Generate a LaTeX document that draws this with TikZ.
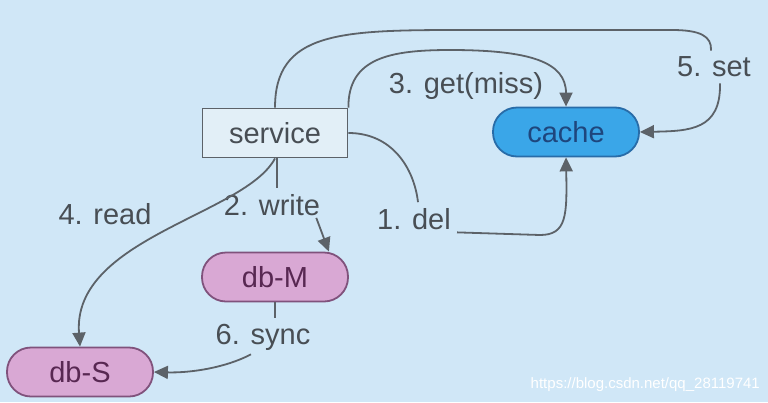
\documentclass[tikz,border=0pt]{standalone}
\usepackage{fontspec}
\setmainfont{Liberation Sans}
\usetikzlibrary{arrows.meta}
\definecolor{bgc}{RGB}{208,231,247}
\definecolor{linec}{RGB}{92,98,104}
\definecolor{txtc}{RGB}{72,78,84}
\definecolor{svcfill}{RGB}{226,239,247}
\definecolor{cachefill}{RGB}{58,166,232}
\definecolor{cachedraw}{RGB}{40,108,168}
\definecolor{cachetxt}{RGB}{30,70,125}
\definecolor{dbfill}{RGB}{217,168,212}
\definecolor{dbdraw}{RGB}{128,82,124}
\definecolor{dbtxt}{RGB}{88,40,82}
\tikzset{
  svcbox/.style={draw=linec, line width=1.8pt, fill=svcfill, text=txtc,
    minimum width=145pt, minimum height=49pt, inner sep=0pt},
  pill/.style={line width=1.8pt, rounded corners=24pt,
    minimum width=146pt, minimum height=49pt, inner sep=0pt},
  cachebox/.style={pill, draw=cachedraw, fill=cachefill, text=cachetxt},
  dbbox/.style={pill, draw=dbdraw, fill=dbfill, text=dbtxt},
  lbl/.style={text=txtc, inner sep=6pt},
  conn/.style={draw=linec, line width=1.8pt},
  arr/.style={conn, -{Triangle[length=14pt,width=13pt]}},
}
\begin{document}
\begin{tikzpicture}[x=1pt,y=-1pt, font=\fontsize{29}{34}\selectfont]
\useasboundingbox (0,0) rectangle (768,402);
\fill[bgc] (0,0) rectangle (768,402);

% nodes
\node[svcbox] (service) at (275,133) {service};
\node[cachebox] (cache) at (566,132) {cache};
\node[dbbox] (dbM) at (275,277) {db-M};
\node[dbbox] (dbS) at (80,372) {db-S};

% labels
\node[lbl] (set) at (714,67) {5. set};
\node[lbl] (get) at (466,86) {3. get(miss)};
\node[lbl] (del) at (414,219) {1. del};
\node[lbl] (read) at (105,214) {4. read};
\node[lbl] (write) at (272,205) {2. write};
\node[lbl] (sync) at (263,337) {6. sync};

% 5. set
\draw[conn] (service.north) .. controls (275,32) and (340,30) .. (460,30)
  -- (672,30) .. controls (700,30) and (712,36) .. ([xshift=-3pt]set.north);
\draw[arr] ([xshift=6pt]set.south) .. controls (721,130) and (690,131) .. (cache.east);

% 3. get(miss)
\draw[arr] (service.north east) .. controls (348,58) and (390,50) .. (450,50)
  .. controls (530,50) and (566,62) .. (cache.north);

% 1. del
\draw[conn] (service.east) .. controls (392,133) and (414,168) .. ([xshift=4pt]del.north);
\draw[arr] ([yshift=-3pt]del.base east) -- (540,235)
  .. controls (567,235) and (567,215) .. (cache.south);

% 4. read
\draw[arr] (service.south) .. controls (245,215) and (72,238) .. (dbS.north);

% 2. write
\draw[conn] ([xshift=2pt]service.south) -- ([xshift=2pt]service.south |- write.north);
\draw[arr] ([xshift=-10pt,yshift=4pt]write.south east) -- ([xshift=-20pt]dbM.north east);

% 6. sync
\draw[conn] (dbM.south) -- (dbM.south |- sync.north);
\draw[arr] ([xshift=-12pt,yshift=2pt]sync.south) .. controls (225,368) and (190,373) .. (dbS.east);

% watermark
\node[anchor=base east, text=white, inner sep=0pt, font=\fontsize{15}{18}\selectfont]
  (wm) at (760,388) {https://blog.csdn.net/qq\_28119741};
\end{tikzpicture}
\end{document}
